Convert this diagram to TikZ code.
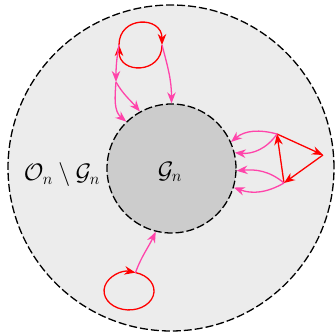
\documentclass[tikz,border=0pt]{standalone}
\usetikzlibrary{arrows.meta}
\definecolor{pinkc}{RGB}{255,68,170}
\newcommand{\biglbl}[1]{\scalebox{1.15}{\huge$#1$}}
\begin{document}
\begin{tikzpicture}[x=1pt,y=1pt,
  region/.style={circle,draw=black,line width=1.3pt,dash pattern=on 8pt off 3pt,inner sep=0pt},
  redarr/.style={draw=red,line width=1.3pt,-{Stealth[length=11pt,width=8.5pt]}},
  pinkarr/.style={draw=pinkc,line width=1.3pt,-{Stealth[length=11pt,width=8.5pt]}}]
\useasboundingbox (0,0) rectangle (335,334);
\node[region,fill=gray!15,minimum size=326pt] (O) at (171,166) {};
\node[region,fill=gray!40,minimum size=129pt] (G) at (171.5,165.5) {};
\node (lo) at (62,159) {\biglbl{\mathcal{O}_n\setminus\mathcal{G}_n}};
\node (lg) at (170,162) {\biglbl{\mathcal{G}_n}};
% top loop
\coordinate (L) at (119,289);
\coordinate (R) at (162,289);
\coordinate (M) at (116,252);
\draw[redarr] (L) to[out=90,in=90,looseness=1.75] (R);
\draw[redarr] (R) to[out=-90,in=-90,looseness=1.75] (L);
\draw[pinkarr] (R) to[out=-75,in=90] (G.90);
\draw[pinkarr] (L) to[out=-100,in=90] (M);
\draw[pinkarr] (M) to[out=-60,in=130] (G.119);
\draw[pinkarr] (M) to[out=-95,in=140] (G.134);
% right triangle
\coordinate (P1) at (277,200);
\coordinate (P2) at (323,179);
\coordinate (P3) at (284,151);
\draw[redarr] (P1) -- (P2);
\draw[redarr] (P2) -- (P3);
\draw[redarr] (P3) -- (P1);
\draw[pinkarr] (P1) to[out=165,in=40] (G.24);
\draw[pinkarr] (P1) to[out=-125,in=-5] (G.14);
\draw[pinkarr] (P3) to[out=140,in=5] (G.-2);
\draw[pinkarr] (P3) to[out=-150,in=-20] (G.-17);
% bottom loop
\coordinate (B) at (135.5,61.4);
\draw[redarr] (B) arc[start angle=435,end angle=75,x radius=25,y radius=19];
\draw[pinkarr] (B) to[out=70,in=-115] (G.256);
\end{tikzpicture}
\end{document}
